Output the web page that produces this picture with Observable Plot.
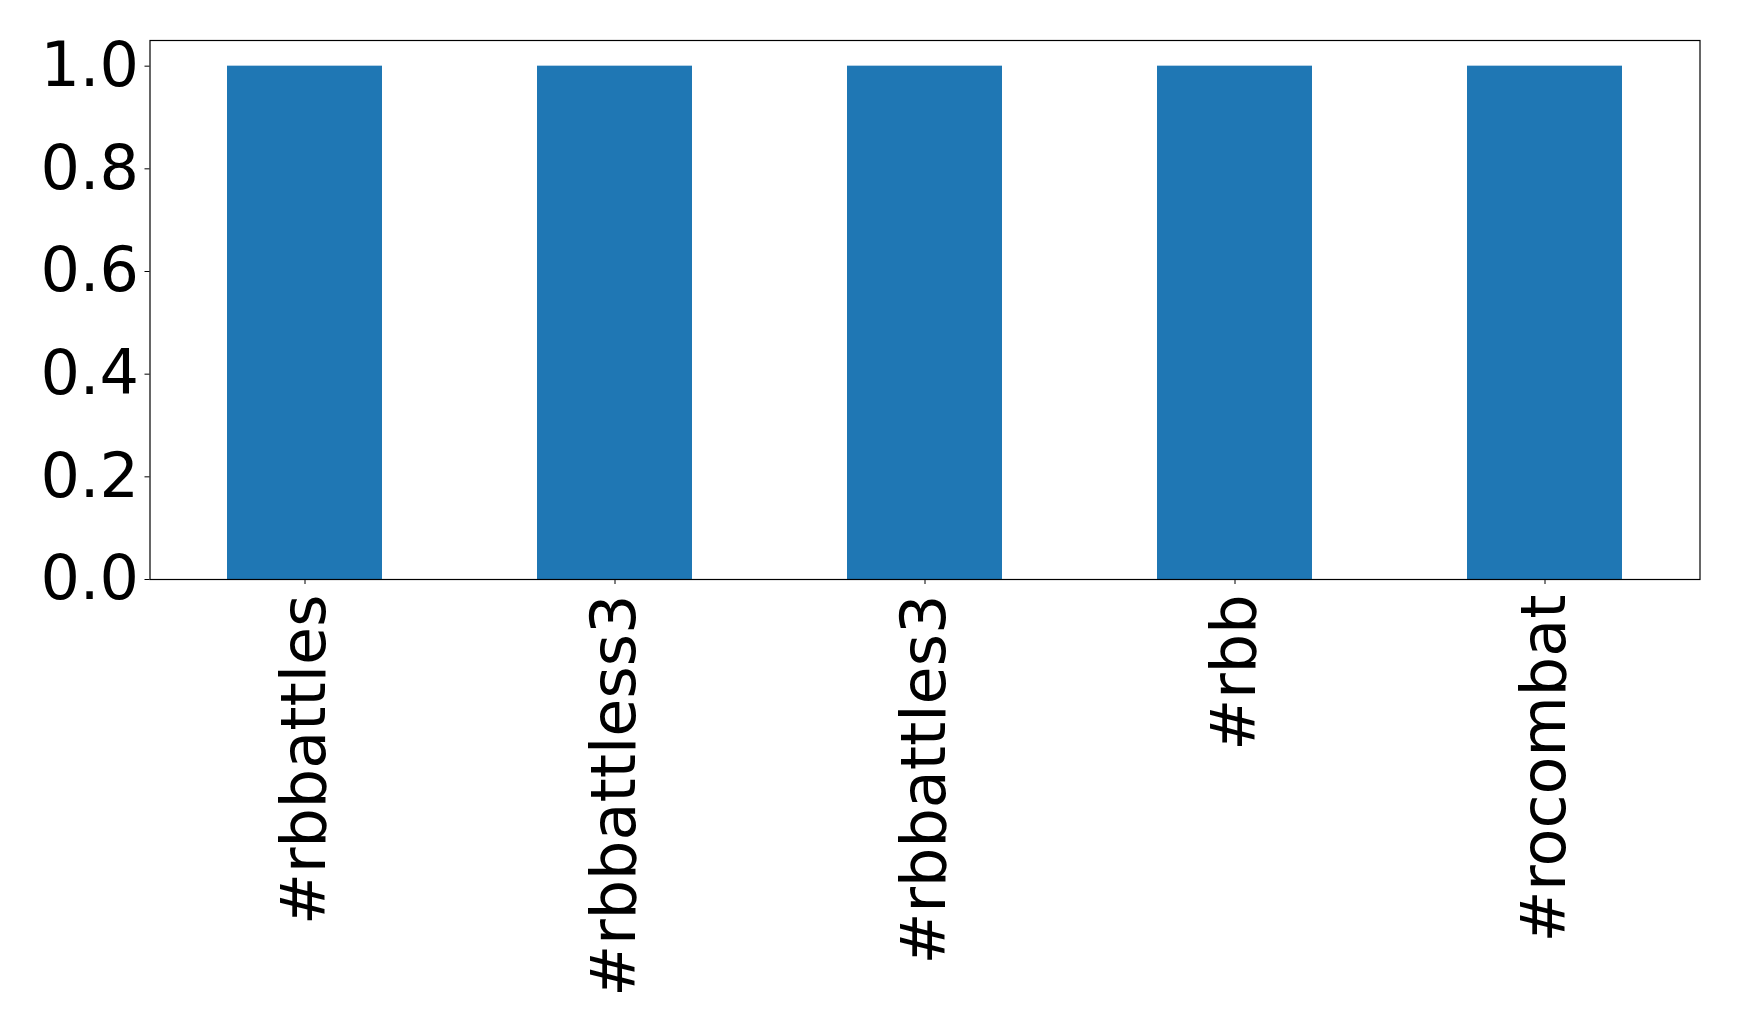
<!DOCTYPE html>
<html>
<head>
<meta charset="utf-8">
<script src="https://cdn.jsdelivr.net/npm/d3@7"></script>
<script src="https://cdn.jsdelivr.net/npm/@observablehq/plot@0.6"></script>
<style>
  html, body { margin: 0; padding: 0; background: #fff; }
  #chart svg { display: block; }
</style>
</head>
<body>
<div id="chart"></div>
<script>
const categories = ["#rbbattles", "#rbbattless3", "#rbbattles3", "#rbb", "#rocombat"];
const values = [1.0, 1.0, 1.0, 1.0, 1.0];
const yTicks = [0, 0.2, 0.4, 0.6, 0.8, 1.0];

const data = categories.map((c, i) => ({key: i, label: c, value: values[i]}));
const keys = data.map(d => d.key);

const chart = Plot.plot({
  width: 1739,
  height: 1034,
  marginLeft: 149.5,
  marginRight: 39.5,
  marginTop: 40,
  marginBottom: 455,
  style: {fontFamily: "DejaVu Sans", background: "#fff", color: "#000"},
  x: {type: "band", domain: keys, paddingInner: 0.5, paddingOuter: 0.25},
  y: {domain: [0, 1.05]},
  marks: [
    Plot.barY(data, {x: "key", y: "value", fill: "#1f77b4"}),
    Plot.frame({stroke: "#000", strokeWidth: 1.2}),
    Plot.axisY({ticks: yTicks, tickFormat: d3.format(".1f"), tickSize: 5, tickPadding: 6, fontSize: 62, label: null, stroke: "#000", color: "#000"}),
    Plot.axisX({tickFormat: k => categories[k], tickRotate: -90, tickSize: 5, tickPadding: 10, fontSize: 62, label: null})
  ]
});
document.getElementById("chart").appendChild(chart);
</script>
</body>
</html>
